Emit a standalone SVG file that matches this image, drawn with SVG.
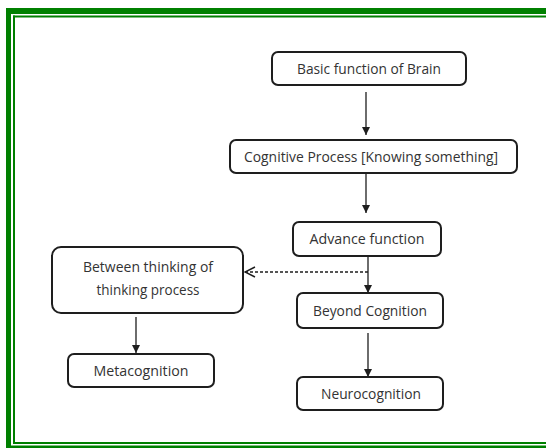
<svg xmlns="http://www.w3.org/2000/svg" width="546" height="448" viewBox="0 0 546 448">
<defs>
<style>
.box{fill:#fff;stroke:#1e1e1e;stroke-width:2}
.t{font-family:"Open Sans","Liberation Sans",sans-serif;font-size:14px;fill:#333;text-anchor:middle}
.c{stroke:#1e1e1e;stroke-width:1.3;fill:none}
.g{fill:#008000}
</style>
<marker id="ah" viewBox="0 0 10 10" refX="10" refY="5" markerWidth="8" markerHeight="8" markerUnits="userSpaceOnUse" orient="auto">
<path d="M0,0 L10,5 L0,10 z" fill="#1e1e1e"/>
</marker>
<marker id="oh" viewBox="0 0 12 12" refX="11" refY="6" markerWidth="12" markerHeight="12" markerUnits="userSpaceOnUse" orient="auto">
<path d="M1,1 L11,6 L1,11" fill="none" stroke="#1e1e1e" stroke-width="1.5"/>
</marker>
</defs>
<rect width="546" height="448" fill="#fff"/>
<g id="frame">
<rect class="g" x="6" y="8" width="540" height="6"/>
<rect class="g" x="13" y="15.5" width="533" height="2"/>
<rect class="g" x="6" y="8" width="5" height="440"/>
<rect class="g" x="13" y="15.5" width="2" height="428"/>
<rect class="g" x="13" y="442" width="533" height="2"/>
<rect class="g" x="6" y="445.5" width="540" height="2.5"/>
</g>
<g id="connectors">
<line class="c" x1="366" y1="92" x2="366" y2="135" marker-end="url(#ah)"/>
<line class="c" x1="366" y1="173" x2="366" y2="213" marker-end="url(#ah)"/>
<line class="c" x1="368" y1="256" x2="368" y2="293" marker-end="url(#ah)"/>
<line class="c" x1="368" y1="272" x2="245" y2="272" stroke-dasharray="3,2" stroke="#666" marker-end="url(#oh)"/>
<line class="c" x1="136" y1="317" x2="136" y2="353" marker-end="url(#ah)"/>
<line class="c" x1="368" y1="333" x2="368" y2="377" marker-end="url(#ah)"/>
</g>
<g id="basic">
<rect class="box" x="272" y="52" width="194" height="33" rx="6"/>
<text class="t" x="369" y="74" textLength="144" lengthAdjust="spacingAndGlyphs">Basic function of Brain</text>
</g>
<g id="cognitive">
<rect class="box" x="230" y="140" width="287" height="33" rx="6"/>
<text class="t" x="371" y="162" textLength="254" lengthAdjust="spacingAndGlyphs">Cognitive Process [Knowing something]</text>
</g>
<g id="advance">
<rect class="box" x="293" y="222" width="148" height="34" rx="6"/>
<text class="t" x="367" y="244" textLength="115" lengthAdjust="spacingAndGlyphs">Advance function</text>
</g>
<g id="between">
<rect class="box" x="52" y="247" width="191" height="66" rx="9"/>
<text class="t" x="148" y="272" textLength="130" lengthAdjust="spacingAndGlyphs">Between thinking of</text>
<text class="t" x="148" y="295" textLength="103" lengthAdjust="spacingAndGlyphs">thinking process</text>
</g>
<g id="meta">
<rect class="box" x="68" y="354" width="146" height="33" rx="6"/>
<text class="t" x="141" y="376" textLength="95" lengthAdjust="spacingAndGlyphs">Metacognition</text>
</g>
<g id="beyond">
<rect class="box" x="297" y="293" width="146" height="35" rx="6"/>
<text class="t" x="370" y="316" textLength="114" lengthAdjust="spacingAndGlyphs">Beyond Cognition</text>
</g>
<g id="neuro">
<rect class="box" x="297" y="377" width="146" height="33" rx="6"/>
<text class="t" x="371" y="399" textLength="100" lengthAdjust="spacingAndGlyphs">Neurocognition</text>
</g>
</svg>
